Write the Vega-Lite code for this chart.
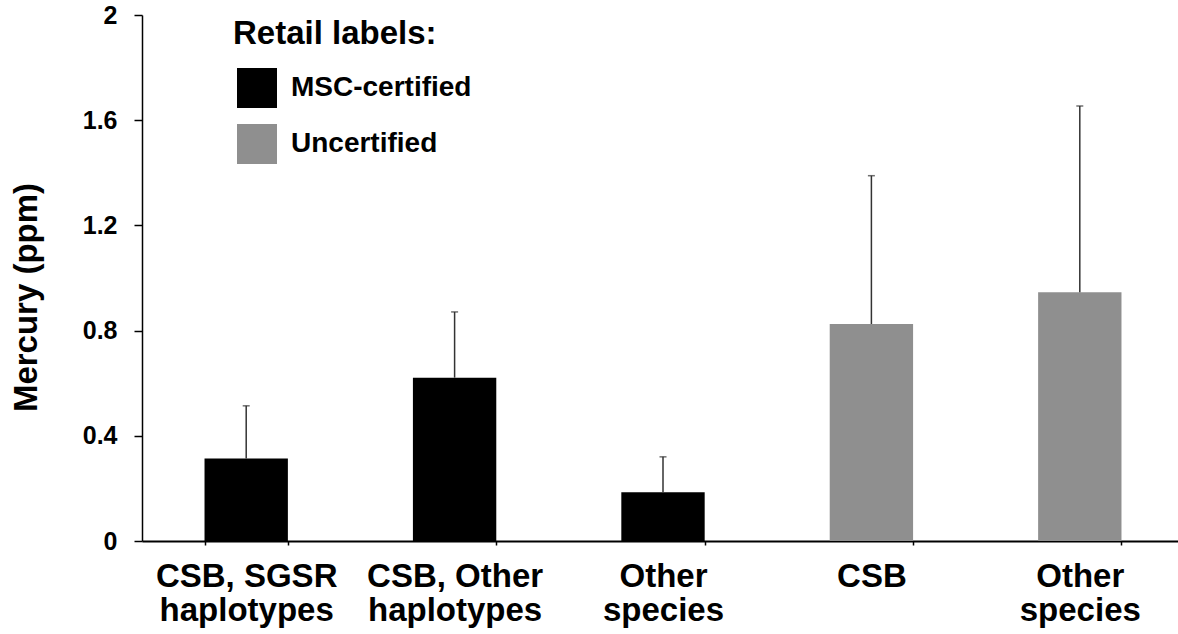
{
  "$schema": "https://vega.github.io/schema/vega-lite/v6.json",
  "autosize": "none",
  "width": 1036,
  "height": 526,
  "padding": {"left": 142, "top": 15, "right": 0, "bottom": 93},
  "background": "white",
  "config": {
    "view": {"stroke": null},
    "font": "Liberation Sans"
  },
  "data": {
    "values": [
      {"bar": "CSB, SGSR haplotypes", "label": "MSC-certified", "mercury": 0.314, "upper": 0.514},
      {"bar": "CSB, Other haplotypes", "label": "MSC-certified", "mercury": 0.621, "upper": 0.871},
      {"bar": "Other species (MSC-certified)", "label": "MSC-certified", "mercury": 0.185, "upper": 0.32},
      {"bar": "CSB", "label": "Uncertified", "mercury": 0.825, "upper": 1.389},
      {"bar": "Other species (uncertified)", "label": "Uncertified", "mercury": 0.946, "upper": 1.654}
    ]
  },
  "encoding": {
    "x": {
      "field": "bar",
      "type": "nominal",
      "sort": null,
      "scale": {"range": [0, 1042], "paddingInner": 0.6, "paddingOuter": 0.3},
      "axis": {
        "title": null,
        "labelAngle": 0,
        "tickBand": "extent",
        "labelExpr": "datum.value == 'CSB, SGSR haplotypes' ? ['CSB, SGSR', 'haplotypes'] : datum.value == 'CSB, Other haplotypes' ? ['CSB, Other', 'haplotypes'] : datum.value == 'CSB' ? 'CSB' : (datum.value == 'Other species (MSC-certified)' || datum.value == 'Other species (uncertified)') ? ['Other', 'species'] : ''",
        "labelFont": "Liberation Sans",
        "labelFontWeight": "bold",
        "labelFontSize": 33,
        "labelLineHeight": 34,
        "labelColor": "black",
        "labelBaseline": "alphabetic",
        "labelPadding": 41,
        "labelLimit": 400,
        "tickSize": 4,
        "tickColor": "black",
        "tickWidth": 1.5,
        "domainColor": "black",
        "domainWidth": 2,
        "grid": false
      }
    }
  },
  "layer": [
    {
      "mark": {"type": "bar"},
      "encoding": {
        "y": {
          "field": "mercury",
          "type": "quantitative",
          "scale": {"domain": [0, 2], "nice": false},
          "axis": {
            "title": "Mercury (ppm)",
            "values": [0, 0.4, 0.8, 1.2, 1.6, 2],
            "format": "~g",
            "grid": false,
            "labelFont": "Liberation Sans",
            "labelFontWeight": "bold",
            "labelFontSize": 25,
            "labelColor": "black",
            "labelPadding": 17,
            "tickSize": 8,
            "tickColor": "black",
            "tickWidth": 1.5,
            "domainColor": "black",
            "domainWidth": 1.5,
            "titleFont": "Liberation Sans",
            "titleFontWeight": "bold",
            "titleFontSize": 33,
            "titleColor": "black",
            "titleAngle": -90,
            "titleAlign": "center",
            "titleBaseline": "alphabetic",
            "titleX": -106,
            "titleY": 282,
            "titleLimit": 600
          }
        },
        "color": {
          "field": "label",
          "type": "nominal",
          "scale": {"domain": ["MSC-certified", "Uncertified"], "range": ["#000000", "#8f8f8f"]},
          "legend": {
            "title": "Retail labels:",
            "orient": "none",
            "direction": "vertical",
            "legendX": 91,
            "legendY": 3,
            "padding": 0,
            "titleFont": "Liberation Sans",
            "titleFontWeight": "bold",
            "titleFontSize": 33,
            "titleColor": "black",
            "titleBaseline": "top",
            "titlePadding": 17,
            "titleLimit": 600,
            "labelFont": "Liberation Sans",
            "labelFontWeight": "bold",
            "labelFontSize": 28,
            "labelColor": "black",
            "labelOffset": 14,
            "labelLimit": 600,
            "symbolType": "square",
            "symbolSize": 1600,
            "symbolStrokeWidth": 0,
            "symbolOpacity": 1,
            "symbolOffset": 4,
            "rowPadding": 16
          }
        }
      }
    },
    {
      "mark": {"type": "rule", "color": "#333333", "strokeWidth": 1.5},
      "encoding": {
        "y": {"field": "mercury", "type": "quantitative"},
        "y2": {"field": "upper"}
      }
    },
    {
      "mark": {"type": "tick", "color": "#333333", "size": 7, "thickness": 1.5},
      "encoding": {
        "y": {"field": "upper", "type": "quantitative"}
      }
    }
  ]
}
